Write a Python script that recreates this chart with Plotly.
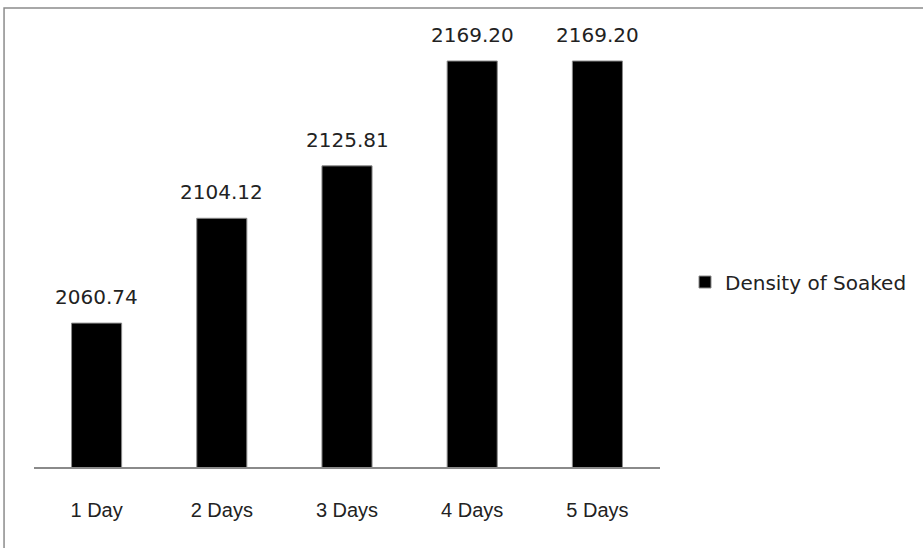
import plotly.graph_objects as go

categories = ["1 Day", "2 Days", "3 Days", "4 Days", "5 Days"]
values = [2060.74, 2104.12, 2125.81, 2169.20, 2169.20]
series_name = "Density of Soaked"
labels = [f"{v:.2f}" for v in values]

W, H = 923, 548
L, R, T, B = 34, 923 - 661, 32, 548 - 467
pw = W - L - R
ph = H - T - B

fig = go.Figure()
fig.add_trace(go.Bar(
    x=categories, y=values, name=series_name,
    marker=dict(color="black", line=dict(color="#8a8a8a", width=1)),
    width=0.4, showlegend=True,
))

for c, v, t in zip(categories, values, labels):
    fig.add_annotation(x=c, y=v, text=t, showarrow=False, yanchor="bottom",
                       yshift=12, font=dict(family="DejaVu Sans", size=20, color="#222"))

# outer frame
fig.add_shape(type="rect", xref="paper", yref="paper",
              x0=(4 - L) / pw, x1=(960 - L) / pw,
              y0=(467 - 600) / ph, y1=(467 - 8) / ph,
              line=dict(color="#8c8c8c", width=1.5), fillcolor="rgba(0,0,0,0)", layer="below")

fig.update_layout(
    width=W, height=H,
    margin=dict(l=L, r=R, t=T, b=B),
    plot_bgcolor="white", paper_bgcolor="white",
    showlegend=True,
    legend=dict(x=(685 - L) / pw, y=(467 - 282) / ph, xanchor="left", yanchor="middle",
                font=dict(family="DejaVu Sans", size=20, color="#222"),
                bgcolor="rgba(0,0,0,0)"),
    xaxis=dict(showline=True, linecolor="#8a8a8a", linewidth=1.5, showgrid=False,
               ticks="", ticklabelstandoff=24,
               tickfont=dict(family="Liberation Sans", size=20, color="#222")),
    yaxis=dict(range=[2001.2, 2181.2], showgrid=False, showline=False, showticklabels=False,
               zeroline=False),
)

fig.write_html("out.html")
